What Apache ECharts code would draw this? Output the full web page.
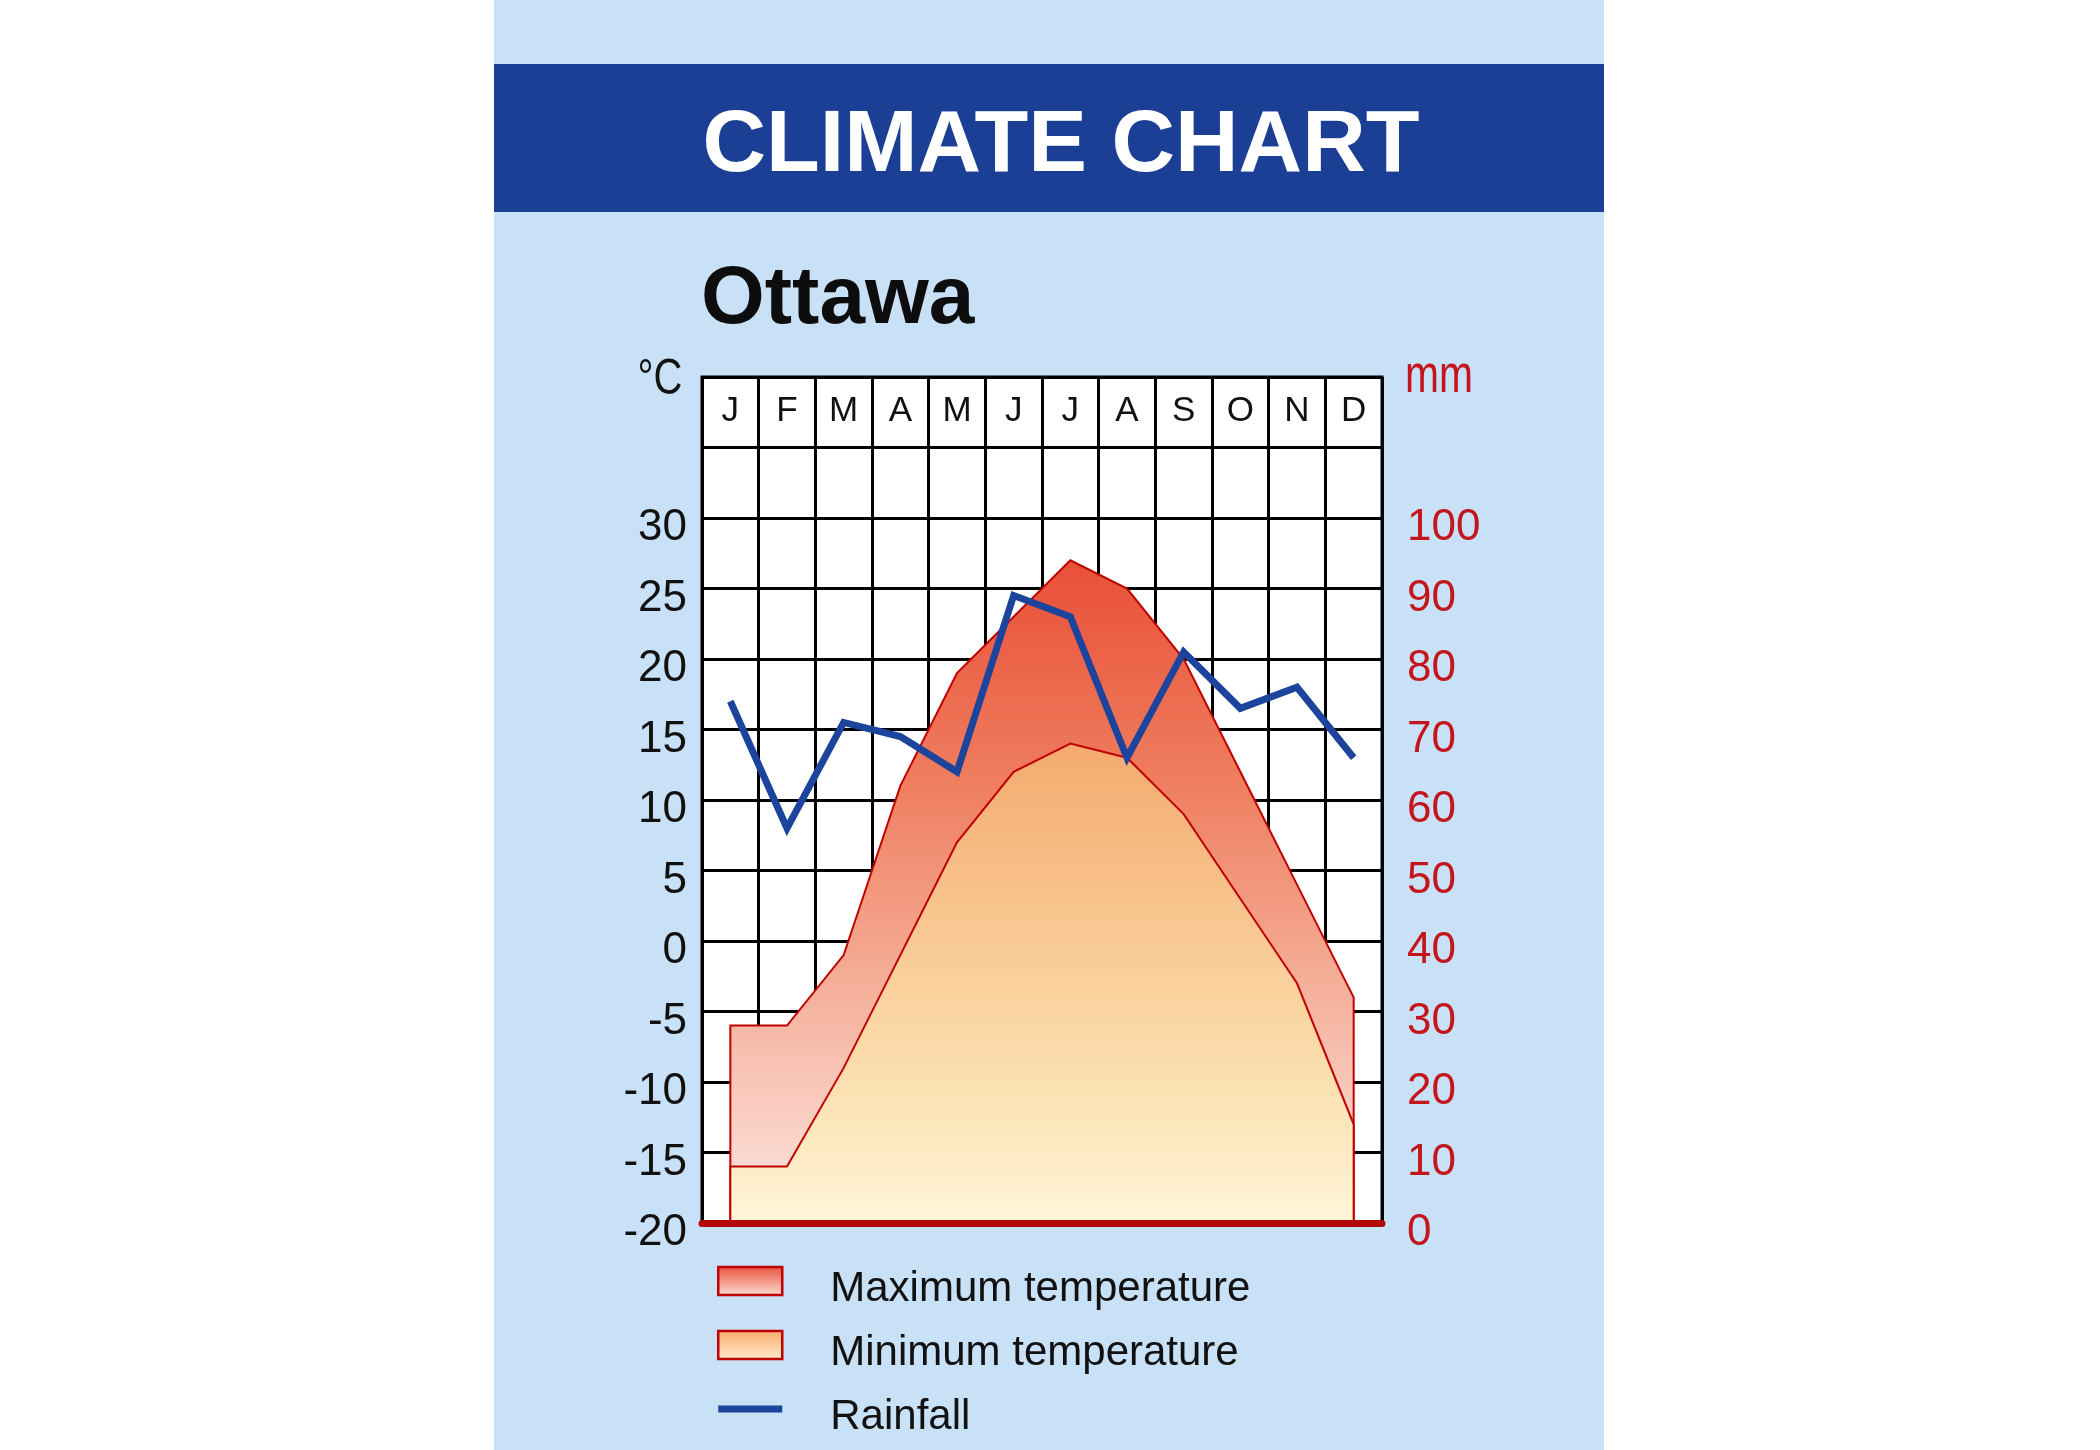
<!DOCTYPE html>
<html><head><meta charset="utf-8">
<script src="https://cdn.jsdelivr.net/npm/echarts@6/dist/echarts.min.js"></script>
<style>html,body{margin:0;padding:0;background:#fff;}#c{width:2100px;height:1450px;}</style>
</head><body><div id="c"></div>
<script>
var months = ['J','F','M','A','M','J','J','A','S','O','N','D'];
var maxTemp = [-6, -6, -1, 11, 19, 23, 27, 25, 20, 12, 4, -4];
var minTemp = [-16, -16, -9, -1, 7, 12, 14, 13, 9, 3, -3, -13];
var rainfall = [74, 56, 71, 69, 64, 89, 86, 66, 81, 73, 76, 66];
var tempTicks = [-20, -15, -10, -5, 0, 5, 10, 15, 20, 25, 30];
var rainTicks = [0, 10, 20, 30, 40, 50, 60, 70, 80, 90, 100];

var SANS = '"Liberation Sans",Arial,Helvetica,sans-serif';
var RED = '#c3151b';
var OUT = '#c00000';
var tMin = -20, tMax = 40, rMax = 120;

function grad(stops) {
  return new echarts.graphic.LinearGradient(0, 0, 0, 1, stops.map(function (s) { return { offset: s[0], color: s[1] }; }));
}
var maxStops = [[0, '#e84f38'], [0.33, '#ef7d5e'], [0.6, '#f4a891'], [0.82, '#f9cbbe'], [1, '#fde8e3']];
var minStops = [[0, '#f4aa6e'], [0.35, '#f8c58e'], [0.7, '#fbdfaf'], [1, '#fff6d8']];

function areaRender(stops) {
  return function (params, api) {
    if (params.dataIndexInside !== 0) return null;
    var n = params.dataInsideLength;
    var pts = [];
    for (var i = 0; i < n; i++) pts.push(api.coord([api.value(0, i), api.value(1, i)]));
    pts.push(api.coord([api.value(0, n - 1), tMin]));
    pts.push(api.coord([api.value(0, 0), tMin]));
    return {
      type: 'polygon',
      shape: { points: pts },
      style: { fill: grad(stops), stroke: OUT, lineWidth: 2, lineJoin: 'miter' }
    };
  };
}

var chart = echarts.init(document.getElementById('c'), null, { renderer: 'canvas' });
var option = {
  backgroundColor: '#ffffff',
  animation: false,
  graphic: [
    { type: 'rect', z: -10, shape: { x: 494, y: 0, width: 1110, height: 1450 }, style: { fill: '#c9e1f6' } },
    { type: 'rect', z: -9, shape: { x: 494, y: 64, width: 1110, height: 148 }, style: { fill: '#1a3f94' } },
    { type: 'text', z: 5, x: 1061, y: 147, style: { text: 'CLIMATE CHART', fill: '#ffffff', font: 'bold 88px ' + SANS, align: 'center', verticalAlign: 'middle' } },
    { type: 'text', z: 5, x: 701, y: 300, style: { text: 'Ottawa', fill: '#0d0d0d', font: 'bold 82px ' + SANS, align: 'left', verticalAlign: 'middle' } },
    { type: 'text', z: 5, x: 660, y: 380, scaleX: 0.8, originX: 0, originY: 0, style: { text: '°C', fill: '#111111', font: '50px ' + SANS, align: 'center', verticalAlign: 'middle' } },
    { type: 'text', z: 5, x: 1405, y: 377, scaleX: 0.77, originX: 0, originY: 0, style: { text: 'mm', fill: RED, font: '53px ' + SANS, align: 'left', verticalAlign: 'middle' } }
  ],
  grid: { left: 702, top: 377, width: 680, height: 846, show: true, backgroundColor: '#ffffff', borderColor: '#000000', borderWidth: 3 },
  legend: {
    orient: 'vertical', left: 712, top: 1247, height: 200, itemWidth: 64, itemHeight: 28, itemGap: 6,
    formatter: function (name) { return '{t|' + name + '}'; },
    textStyle: {
      fontSize: 42, lineHeight: 28, fontFamily: SANS, color: '#111111', padding: [0, 0, 0, 43],
      rich: { t: { fontSize: 42, lineHeight: 28, fontFamily: SANS, color: '#111111', padding: [16, 0, 0, 0] } }
    },
    data: [
      { name: 'Maximum temperature', icon: 'rect', itemStyle: { color: grad([[0, '#e84f38'], [1, '#fde0d6']]), borderColor: OUT, borderWidth: 2.5 } },
      { name: 'Minimum temperature', icon: 'rect', itemStyle: { color: grad([[0, '#f8ac6c'], [1, '#ffeccc']]), borderColor: OUT, borderWidth: 2.5 } },
      { name: 'Rainfall', icon: 'path://M0,0H64V7H0Z', itemStyle: { color: '#1c449c' } }
    ]
  },
  xAxis: [
    {
      type: 'category', data: months, position: 'top', boundaryGap: true,
      axisLine: { show: false }, axisTick: { show: false },
      axisLabel: { inside: true, margin: 34, verticalAlign: 'middle', interval: 0, fontSize: 35, fontFamily: SANS, color: '#111111' },
      splitLine: { show: true, interval: 0, lineStyle: { color: '#000000', width: 3 } }
    },
    {
      type: 'category', data: months, position: 'bottom', boundaryGap: true, z: 10,
      axisLine: { show: true, lineStyle: { color: '#b30808', width: 7 } },
      axisTick: { show: false }, axisLabel: { show: false }, splitLine: { show: false }
    }
  ],
  yAxis: [
    {
      type: 'value', min: tMin, max: tMax, interval: 5, position: 'left',
      axisLine: { show: false }, axisTick: { show: false },
      axisLabel: { margin: 15, fontSize: 44, fontFamily: SANS, color: '#111111', verticalAlign: 'top', lineHeight: 20,
        formatter: function (v) { return tempTicks.indexOf(v) >= 0 ? String(v) : ''; } },
      splitLine: { show: true, lineStyle: { color: '#000000', width: 3 } }
    },
    {
      type: 'value', min: 0, max: rMax, interval: 10, position: 'right',
      axisLine: { show: false }, axisTick: { show: false },
      axisLabel: { margin: 25, fontSize: 44, fontFamily: SANS, color: RED, verticalAlign: 'top', lineHeight: 20,
        formatter: function (v) { return rainTicks.indexOf(v) >= 0 ? String(v) : ''; } },
      splitLine: { show: false }
    }
  ],
  series: [
    {
      name: 'Maximum temperature', type: 'custom', xAxisIndex: 0, yAxisIndex: 0, z: 2,
      encode: { x: 0, y: 1 }, renderItem: areaRender(maxStops),
      itemStyle: { color: '#e84f38' },
      data: maxTemp.map(function (v, i) { return [i, v]; })
    },
    {
      name: 'Minimum temperature', type: 'custom', xAxisIndex: 0, yAxisIndex: 0, z: 3,
      encode: { x: 0, y: 1 }, renderItem: areaRender(minStops),
      itemStyle: { color: '#f8ac6c' },
      data: minTemp.map(function (v, i) { return [i, v]; })
    },
    {
      name: 'Rainfall', type: 'line', xAxisIndex: 0, yAxisIndex: 1, z: 4,
      symbol: 'none',
      lineStyle: { color: '#1c449c', width: 7, join: 'miter', cap: 'butt' },
      itemStyle: { color: '#1c449c' },
      data: rainfall.map(function (v, i) { return [i, v]; })
    }
  ]
};
chart.setOption(option);
</script></body></html>
